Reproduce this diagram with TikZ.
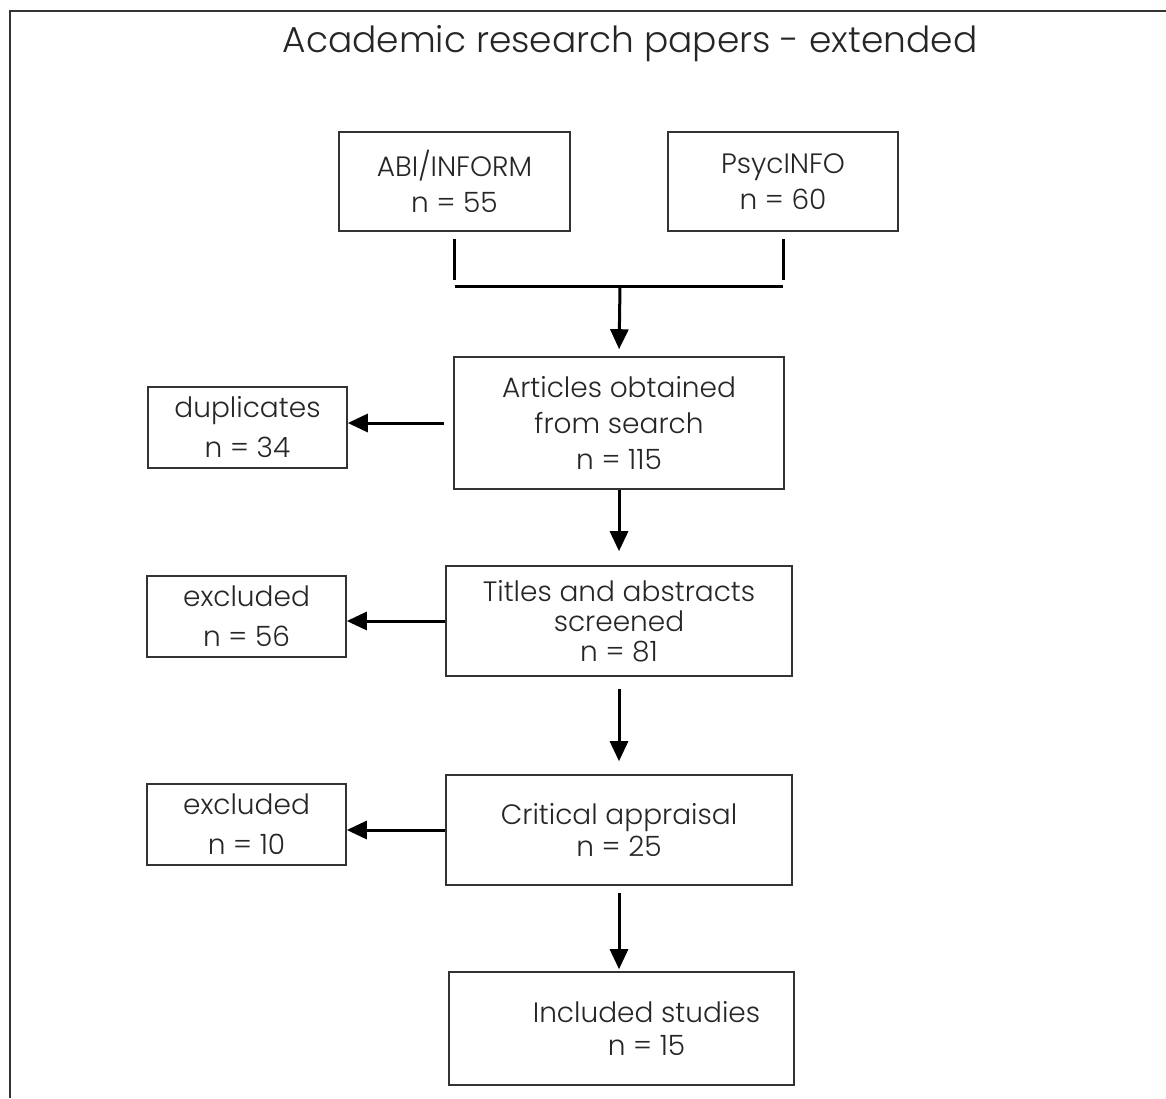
\documentclass[tikz,border=0pt]{standalone}
\usepackage{fontspec}
\setmainfont{Poppins}[UprightFont=* Light]
\usepackage{tikz}
\usetikzlibrary{arrows.meta}

\begin{document}
\begin{tikzpicture}[x=1pt,y=1pt]
\tikzstyle{frame} = [draw=black!80,line width=2pt]
\tikzstyle{heading} = [font=\fontsize{36}{40}\selectfont,text=black!85]
\tikzstyle{box} = [draw=black!80,line width=1.6pt,align=center,text=black!85,inner sep=0pt,font=\fontsize{28}{36}\selectfont]
\tikzstyle{sidebox} = [box,minimum width=199pt,minimum height=81pt,font=\fontsize{28}{40}\selectfont]
\tikzstyle{link} = [draw,line width=3pt]
\tikzstyle{arrow} = [link,-{Triangle[width=18pt,length=20pt]}]

\useasboundingbox (0,0) rectangle (1166,-1098);
\draw[frame] (10,-1098) -- (10,-11) -- (1166,-11);

\node[heading] (title) at (630,-44) {Academic research papers - extended};

\node[box,minimum width=231pt,minimum height=99pt] (abi) at (454.5,-181.5) {ABI/INFORM\\n = 55};
\node[box,right of=abi,node distance=328.5pt,minimum width=230pt,minimum height=99pt] (psyc) {PsycINFO\\n = 60};

\node[box,minimum width=330pt,minimum height=132pt] (search) at (619,-423) {Articles obtained\\from search\\n = 115};
\node[sidebox,left of=search,node distance=371.5pt,yshift=-4.5pt] (dup) {duplicates\\n = 34};

\node[box,below of=search,node distance=198pt,minimum width=346pt,minimum height=110pt,font=\fontsize{28}{30}\selectfont] (screen) {Titles and abstracts\\screened\\n = 81};
\node[sidebox,left of=screen,node distance=372.5pt,yshift=4.5pt] (excl1) {excluded\\n = 56};

\node[box,below of=screen,node distance=209pt,minimum width=346pt,minimum height=110pt,font=\fontsize{28}{32}\selectfont] (appraise) {Critical appraisal\\n = 25};
\node[sidebox,left of=appraise,node distance=372.5pt,yshift=5.5pt] (excl2) {excluded\\n = 10};

\node[box,below of=appraise,node distance=198.5pt,xshift=2.5pt,minimum width=345pt,minimum height=113pt,font=\fontsize{28}{33}\selectfont] (incl) {\hspace*{50pt}Included studies\\\hspace*{50pt}n = 15};

\coordinate (merge) at (620,-286);
\draw[link,shorten <=7pt,shorten >=6pt] (abi.south) -- (abi.south |- merge);
\draw[link,shorten <=7pt,shorten >=6pt] (psyc.south) -- (psyc.south |- merge);
\draw[link] (abi.south |- merge) -- (psyc.south |- merge);
\draw[arrow,shorten >=7pt] (merge) -- (search.north);

\draw[arrow,shorten <=9pt] (search.west) -- (search.west -| dup.east);
\draw[arrow,shorten >=14pt] (search.south) -- (screen.north);
\draw[arrow] (screen.west) -- (screen.west -| excl1.east);
\draw[arrow,shorten <=12pt,shorten >=13pt] (screen.south) -- (appraise.north);
\draw[arrow] (appraise.west) -- (appraise.west -| excl2.east);
\draw[arrow,shorten <=7pt,shorten >=2pt] (appraise.south) -- (appraise.south |- incl.north);

\end{tikzpicture}
\end{document}
